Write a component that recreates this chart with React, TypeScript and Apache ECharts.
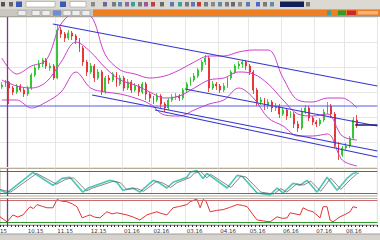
import React, { useEffect, useRef } from "react";
import * as echarts from "echarts";

// ---------- data ----------
const slotCount = 102;
const monthStarts = [7, 15, 24, 33, 41, 50, 59, 67, 76, 85, 93];
const monthLabels = ["10.15", "11.15", "12.15", "01.16", "02.16", "03.16", "04.16", "05.16", "06.16", "07.16", "08.16"];

// [open, close, low, high]
const candles: number[][] = [
  [113, 115, 111, 118], [115, 118, 113, 120], [118, 112, 96, 119], [112, 108, 105, 114],
  [108, 114, 106, 116], [114, 110, 108, 116], [110, 106, 103, 112], [106, 112, 104, 114],
  [112, 125, 110, 127], [125, 132, 123, 135], [132, 136, 130, 140], [136, 140, 133, 142],
  [140, 134, 131, 142], [132, 134, 129, 137], [134, 122, 120, 136], [122, 170, 121, 175],
  [170, 166, 162, 173], [166, 162, 158, 168], [162, 167, 160, 170], [167, 164, 160, 169],
  [164, 160, 156, 166], [160, 152, 148, 162], [152, 138, 134, 154], [138, 128, 124, 140],
  [128, 134, 126, 137], [134, 122, 118, 136], [122, 128, 120, 131], [128, 108, 105, 130],
  [108, 122, 106, 124], [122, 120, 116, 125], [120, 126, 118, 128], [126, 116, 113, 128],
  [116, 122, 114, 125], [122, 112, 109, 124], [112, 118, 110, 121], [118, 110, 107, 120],
  [110, 114, 108, 117], [114, 108, 104, 116], [108, 116, 106, 118], [116, 106, 100, 118],
  [106, 102, 98, 108], [102, 100, 96, 104], [100, 104, 98, 107], [104, 96, 92, 106],
  [96, 92, 88, 98], [92, 100, 90, 102], [100, 103, 98, 106], [103, 104, 100, 107],
  [104, 102, 99, 106], [102, 110, 100, 112], [110, 116, 108, 118], [116, 120, 114, 123],
  [120, 124, 118, 127], [124, 130, 122, 132], [130, 138, 128, 140], [138, 142, 135, 145],
  [142, 112, 108, 144], [112, 116, 110, 119], [116, 114, 110, 118], [114, 110, 107, 116],
  [110, 114, 108, 117], [114, 122, 112, 124], [122, 128, 120, 130], [128, 134, 126, 136],
  [134, 136, 131, 139], [136, 138, 132, 140], [138, 134, 130, 140], [134, 128, 125, 136],
  [128, 110, 106, 130], [110, 98, 94, 112], [98, 100, 95, 103], [100, 94, 90, 102],
  [94, 98, 91, 101], [98, 92, 88, 100], [92, 94, 89, 97], [94, 86, 82, 96],
  [86, 90, 84, 92], [90, 84, 80, 92], [84, 86, 82, 89], [86, 76, 72, 88],
  [76, 72, 68, 79], [72, 88, 70, 92], [88, 92, 86, 95], [92, 82, 79, 94],
  [82, 78, 75, 84], [78, 76, 73, 80], [76, 80, 74, 82], [80, 88, 78, 91],
  [88, 94, 86, 98], [94, 86, 82, 96], [86, 55, 52, 88], [55, 45, 40, 58],
  [45, 52, 43, 54], [52, 54, 49, 57], [54, 62, 52, 64], [62, 80, 60, 83],
  [80, 75, 72, 85],
];

const bandIdx = [0, 4, 8, 12, 16, 20, 24, 28, 32, 36, 40, 44, 48, 52, 56, 60, 64, 68, 72, 76, 80, 84, 88, 92, 96];
const upperBand = [142, 126, 134, 140, 176, 187, 184, 145, 130, 126, 122, 124, 130, 138, 144, 144, 148, 150, 150, 122, 100, 98, 102, 102, 92];
const middleBand = [120, 114, 112, 118, 138, 158, 148, 132, 120, 115, 108, 102, 104, 112, 120, 122, 128, 126, 116, 100, 86, 84, 86, 64, 60];
const lowerBand = [100, 100, 92, 98, 108, 128, 112, 108, 106, 102, 96, 85, 84, 90, 96, 100, 112, 102, 82, 74, 64, 64, 66, 40, 34];

const trendLines: number[][][] = [
  [[13.8, 176], [101.5, 114]],
  [[49.5, 111], [101.5, 74]],
  [[24.4, 105], [101.5, 49]],
  [[41.4, 90], [101.5, 43]],
];
const levelLine = [[-0.5, 94], [101.5, 94]];
const lastPriceLine = [[95.5, 75], [101.5, 75]];
const cursorIdx = 1.5;

const stochK = [
  [-0.5, 21], [1.4, 11], [8.4, 86], [13.8, 39], [16.3, 64], [18.4, 68], [21.9, 14], [23.3, 29],
  [29.2, 57], [31.1, 50], [32.7, 21], [35.4, 29], [37.3, 14], [40.9, 57], [42.7, 46], [44.6, 29],
  [46.3, 50], [50.0, 68], [50.9, 86], [52.7, 93], [54.4, 64], [55.4, 82], [60.9, 29], [63.6, 75],
  [65.0, 71], [69.0, 11], [72.5, 4], [74.4, 29], [76.0, 11], [78.7, 46], [80.6, 39], [82.5, 57],
  [85.2, 14], [87.9, 68], [90.6, 21], [93.3, 64], [94.9, 82], [96.0, 86],
];
const stochD = [
  [-0.5, 24], [2.4, 14], [9.4, 82], [14.8, 43], [17.3, 61], [19.4, 66], [22.9, 18], [24.3, 28],
  [30.2, 54], [32.1, 48], [33.7, 24], [36.4, 28], [38.3, 17], [41.9, 54], [43.7, 46], [45.6, 31],
  [47.3, 48], [51.0, 68], [51.9, 82], [53.7, 90], [55.4, 66], [56.4, 79], [61.9, 31], [64.6, 72],
  [66.0, 69], [70.0, 14], [73.5, 7], [75.4, 27], [77.0, 14], [79.7, 44], [81.6, 40], [83.5, 54],
  [86.2, 17], [88.9, 65], [91.6, 24], [94.3, 61], [95.9, 80], [96.5, 84],
];
const stochLevels = [89, 11];

const rsi = [
  [-0.5, 31], [1.4, 12], [3.0, 38], [4.3, 30], [5.7, 38], [7.6, 69], [8.5, 62], [9.5, 77],
  [11, 70], [12.2, 65], [13.8, 65], [14.9, 96], [16.2, 90], [17.6, 88], [19, 80], [20.3, 69],
  [21.7, 27], [22.8, 33], [23.8, 38], [25, 30], [26.5, 27], [28.4, 50], [29.8, 42], [31.1, 46],
  [33.8, 38], [35.5, 30], [37.3, 19], [39.2, 38], [40.5, 44], [41.9, 50], [43, 44], [44.6, 38],
  [46.3, 65], [48, 70], [50.0, 77], [50.9, 88], [52.7, 98], [53.6, 65], [54.4, 96], [55.2, 90],
  [56.3, 50], [58, 55], [59.8, 58], [61.5, 66], [63.6, 77], [65, 74], [66.3, 69], [67.9, 38],
  [69.0, 19], [70.8, 15], [72.5, 12], [74.4, 31], [75.8, 25], [77.1, 27], [77.9, 46], [80.6, 38],
  [81.4, 65], [82.8, 55], [84.1, 50], [86.0, 27], [86.8, 69], [87.9, 69], [88.7, 19], [89.5, 12],
  [91.4, 31], [92.8, 40], [94.1, 50], [94.9, 69], [96.0, 65],
];
const rsiLevels = [92, 12];

// ---------- styling helpers ----------
const categories = Array.from({ length: slotCount }, (_, i) => `${i}`);
const isMonth = (i: number) => monthStarts.indexOf(i) >= 0;
const pairs = (xs: number[], ys: number[]) => xs.map((x, k) => [x, ys[k]]);
const plotWidth = 377.4;
const gridColor = "#e6e6e6";
const font = "DejaVu Sans";

const catAxis = (gridIndex: number, labels: boolean) => ({
  type: "category",
  gridIndex,
  data: categories,
  boundaryGap: true,
  axisLine: { show: labels, lineStyle: { color: "#9a9a9a", width: 1 } },
  axisTick: { show: labels, interval: 0, length: 2, lineStyle: { color: "#333" } },
  axisLabel: labels
    ? {
        show: true,
        interval: (i: number) => isMonth(i),
        formatter: (_v: string, i: number) => monthLabels[monthStarts.indexOf(i)] ?? "",
        fontSize: 5.5,
        color: "#333",
        margin: 3,
        align: "left",
        fontFamily: font,
      }
    : { show: false },
  splitLine: { show: true, interval: (i: number) => isMonth(i), lineStyle: { color: gridColor, width: 1 } },
});
const valAxisX = (gridIndex: number) => ({ type: "value", gridIndex, min: -0.5, max: slotCount - 0.5, show: false });

const cursorMark = {
  silent: true,
  symbol: "none",
  label: { show: false },
  lineStyle: { color: "#7d3a7d", width: 1.3, type: "solid" },
  data: [{ xAxis: cursorIdx }],
};
const levelMarks = (levels: number[], colors: string[]) => ({
  silent: true,
  symbol: "none",
  label: { show: false },
  data: [
    ...levels.map((v, k) => ({ yAxis: v, lineStyle: { color: colors[k], width: 1, type: "solid" } })),
    { xAxis: cursorIdx, lineStyle: { color: "#7d3a7d", width: 1.3, type: "solid" } },
  ],
});

const bandStyle = { color: "#cc3fcc", width: 1 };
const trendStyle = { color: "#3535d0", width: 1.2 };

// toolbar chrome
const iconXs = [1, 9, 91, 103, 112, 118, 125, 131, 138, 144, 151, 160, 170, 178, 185, 191, 197, 204, 211, 218, 225, 231, 238, 246, 256, 263, 270, 306];
const iconColors = ["#555", "#666", "#8a8a8a", "#6a6a9a", "#7a7a7a", "#5a8ab0", "#8a6aa0", "#3aa0a0", "#7a7a7a", "#9a5a9a", "#c04040", "#6a6a6a", "#5a7ab0", "#3aa0a0", "#7a7a7a", "#5a7ab0", "#c03a3a", "#7a7a7a", "#8a8a8a", "#5a8ab0", "#7a7a7a", "#6a6a6a", "#8a8a8a", "#5a7ab0", "#4a6ad0", "#7a7a7a", "#6a8aa0", "#7a7a7a"];
const tabXs = [18, 32, 42, 53, 63, 72, 82];

const graphic: any[] = [
  { type: "rect", silent: true, shape: { x: 0, y: 0, width: 380, height: 9 }, style: { fill: "#dcd9d3" } },
  { type: "rect", silent: true, shape: { x: 0, y: 9, width: 380, height: 7.5 }, style: { fill: "#cac7c1" } },
  { type: "rect", silent: true, shape: { x: 93, y: 9.5, width: 287, height: 6.5 }, style: { fill: "#f07f22" } },
  { type: "line", silent: true, shape: { x1: 0, y1: 16.5, x2: 380, y2: 16.5 }, style: { stroke: "#a9a6a0", lineWidth: 1 } },
  { type: "rect", silent: true, shape: { x: 26, y: 1.5, width: 29, height: 5.5 }, style: { fill: "#fff", stroke: "#9a9a9a", lineWidth: 0.6 } },
  { type: "rect", silent: true, shape: { x: 70, y: 1.5, width: 16, height: 5.5 }, style: { fill: "#fff", stroke: "#9a9a9a", lineWidth: 0.6 } },
  { type: "rect", silent: true, shape: { x: 16, y: 1.5, width: 6, height: 5.5 }, style: { fill: "#3a5ab8" } },
  { type: "rect", silent: true, shape: { x: 60, y: 1.5, width: 6, height: 5.5 }, style: { fill: "#3a5ab8" } },
  { type: "rect", silent: true, shape: { x: 280, y: 1.5, width: 24, height: 5.5 }, style: { fill: "#10205a" } },
  ...iconXs.map((x, k) => ({
    type: "rect",
    silent: true,
    shape: { x, y: 2, width: 4, height: 4.5 },
    style: { fill: iconColors[k % iconColors.length] },
  })),
  ...tabXs.map((x, k) => ({
    type: "rect",
    silent: true,
    shape: { x, y: 10.5, width: 8, height: 5 },
    style: { fill: k === 3 ? "#6a8fd8" : "#eeeeee", stroke: "#8a8a8a", lineWidth: 0.5 },
  })),
  { type: "rect", silent: true, shape: { x: 327, y: 10.5, width: 4, height: 4.5 }, style: { fill: "#3aa0a0" } },
  { type: "rect", silent: true, shape: { x: 338, y: 10.5, width: 8, height: 4.5 }, style: { fill: "#2aa02a" } },
  { type: "rect", silent: true, shape: { x: 347, y: 10.5, width: 9, height: 4.5 }, style: { fill: "#cc2a2a" } },
  { type: "rect", silent: true, shape: { x: 358, y: 11, width: 20, height: 3.5 }, style: { fill: "#f5b27a" } },
  // bottom bar
  { type: "rect", silent: true, shape: { x: 0, y: 234, width: 380, height: 6 }, style: { fill: "#d6d3cd" } },
  { type: "line", silent: true, shape: { x1: 0, y1: 234, x2: 380, y2: 234 }, style: { stroke: "#a0a0a0", lineWidth: 1 } },
  { type: "text", silent: true, x: 0, y: 228, style: { text: "15", fontSize: 5.5, fill: "#333", fontFamily: font } },
];

const option: any = {
  animation: false,
  backgroundColor: "#ffffff",
  grid: [
    { left: 0, top: 17, width: plotWidth, height: 150 },
    { left: 0, top: 168.5, width: plotWidth, height: 27.5, show: true, borderColor: "#b8ae98", borderWidth: 1, backgroundColor: "#fff" },
    { left: 0, top: 198.5, width: plotWidth, height: 26.5, show: true, borderColor: "#b5b5b5", borderWidth: 1, backgroundColor: "#fff" },
  ],
  xAxis: [catAxis(0, false), valAxisX(0), catAxis(1, false), valAxisX(1), catAxis(2, true), valAxisX(2)],
  yAxis: [
    { type: "value", gridIndex: 0, min: 33, max: 183, show: false },
    {
      type: "value", gridIndex: 0, min: 0, max: 150, interval: 25, position: "right",
      axisLabel: { show: false }, axisLine: { show: false }, axisTick: { show: false },
      splitLine: { show: true, lineStyle: { color: gridColor, width: 1 } },
    },
    { type: "value", gridIndex: 1, min: 0, max: 100, show: false },
    { type: "value", gridIndex: 2, min: 0, max: 100, show: false },
  ],
  graphic,
  series: [
    { type: "line", xAxisIndex: 1, yAxisIndex: 0, data: pairs(bandIdx, upperBand), smooth: 0.35, symbol: "none", lineStyle: bandStyle, markLine: cursorMark },
    { type: "line", xAxisIndex: 1, yAxisIndex: 0, data: pairs(bandIdx, middleBand), smooth: 0.35, symbol: "none", lineStyle: bandStyle },
    { type: "line", xAxisIndex: 1, yAxisIndex: 0, data: pairs(bandIdx, lowerBand), smooth: 0.35, symbol: "none", lineStyle: bandStyle },
    ...trendLines.map((d) => ({ type: "line", xAxisIndex: 1, yAxisIndex: 0, data: d, symbol: "none", lineStyle: trendStyle })),
    { type: "line", xAxisIndex: 1, yAxisIndex: 0, data: levelLine, symbol: "none", lineStyle: { color: "#5a5ae6", width: 1.2 } },
    {
      type: "candlestick", xAxisIndex: 0, yAxisIndex: 0, data: candles, barMaxWidth: 1.4,
      itemStyle: { color: "#1fbf1f", color0: "#e22222", borderColor: "#1fbf1f", borderColor0: "#e22222", borderWidth: 0.8 },
    },
    { type: "line", xAxisIndex: 1, yAxisIndex: 0, data: lastPriceLine, symbol: "none", lineStyle: { color: "#1c1c7a", width: 1.3 } },
    {
      type: "line", xAxisIndex: 3, yAxisIndex: 2, data: stochK, symbol: "none",
      lineStyle: { color: "#4cc6b6", width: 1.6 },
      markLine: levelMarks(stochLevels, ["#b84040", "#2e9a2e"]),
    },
    { type: "line", xAxisIndex: 3, yAxisIndex: 2, data: stochD, symbol: "none", lineStyle: { color: "#6a6a6a", width: 0.8 } },
    {
      type: "line", xAxisIndex: 5, yAxisIndex: 3, data: rsi, symbol: "none",
      lineStyle: { color: "#e03434", width: 1 },
      markLine: levelMarks(rsiLevels, ["#d06a6a", "#2e9a2e"]),
    },
  ],
};

export default function App() {
  const ref = useRef<HTMLDivElement>(null);
  useEffect(() => {
    if (!ref.current) return;
    const chart = echarts.init(ref.current, null, { renderer: "svg" });
    chart.setOption(option);
    return () => chart.dispose();
  }, []);
  return (
    <div
      ref={ref}
      style={{ position: "fixed", left: 0, top: 0, width: 380, height: 240, background: "#fff" }}
    />
  );
}
